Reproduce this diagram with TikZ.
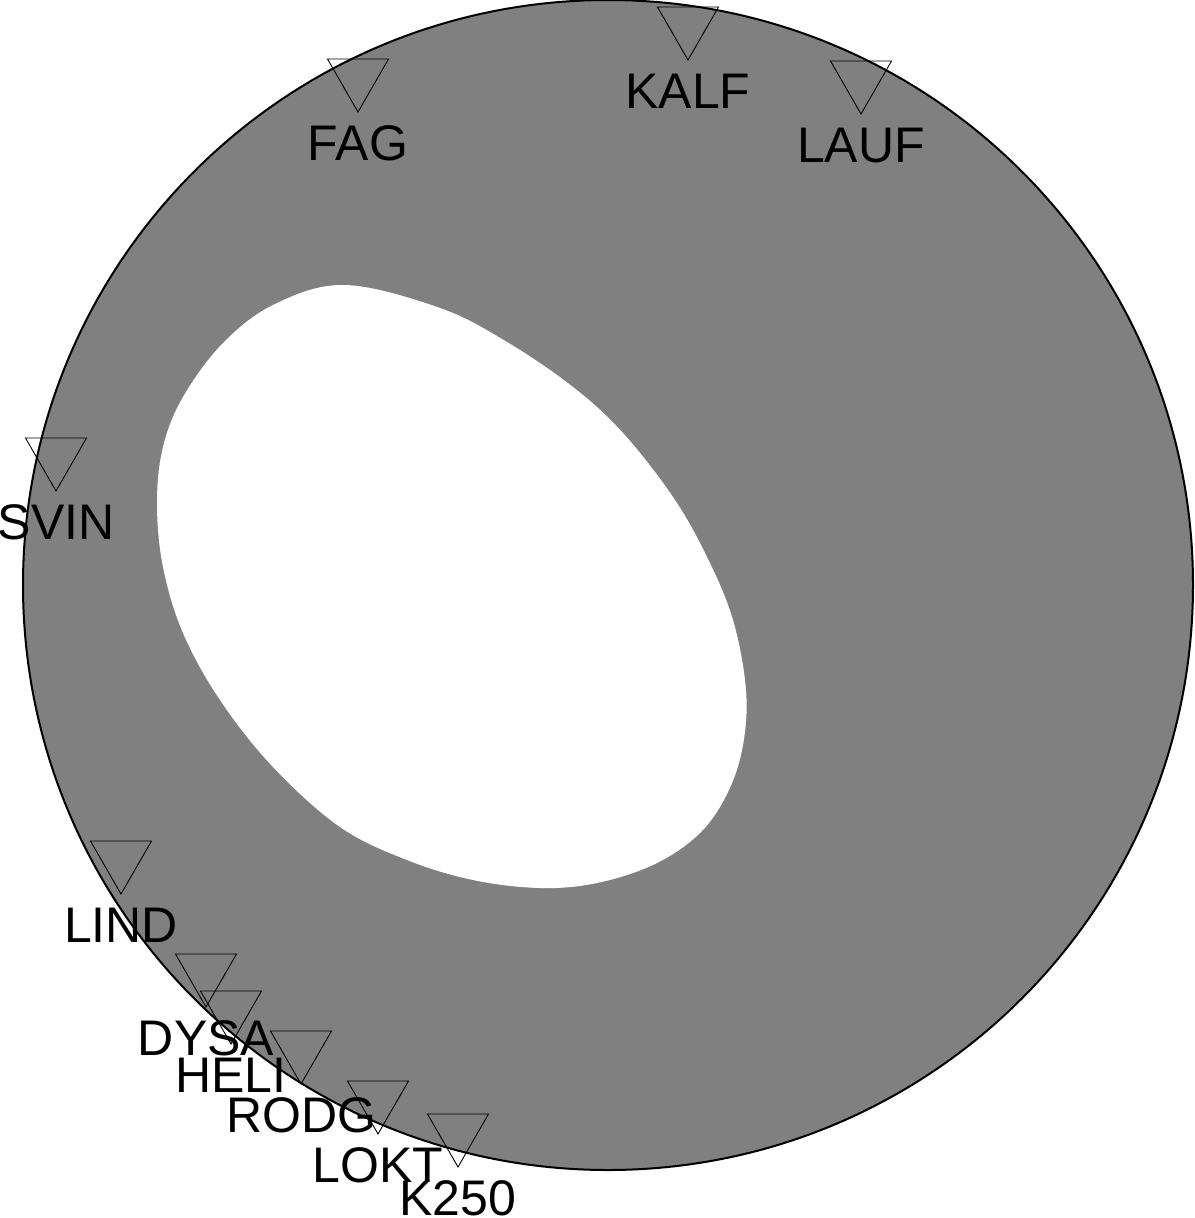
\documentclass[tikz,border=0pt]{standalone}
\usepackage{fontspec}
\setmainfont{Liberation Sans}
\definecolor{fillgray}{RGB}{128,128,128}
\begin{document}
\begin{tikzpicture}[x=1pt,y=-1pt,
  tri/.style={draw=black,line width=0.9pt,line join=miter},
  lab/.style={anchor=base,inner sep=0pt,font=\fontsize{50}{60}\selectfont}]
\useasboundingbox (0,0) rectangle (1194,1218);
% disc
\coordinate (c) at (608,585);
\fill[fillgray] (c) circle[radius=585];
% hole
\fill[white] plot[smooth cycle,tension=0.6] coordinates {
 (345,285) (440,308) (507,342) (573,387) (623,433) (673,497) (707,557)
 (733,620) (746,690) (743,745) (728,792) (700,833) (655,864) (597,883)
 (540,888) (473,880) (407,860) (340,827) (273,767) (220,700) (183,633)
 (163,567) (157,503) (163,447) (183,397) (223,343) (275,304)};
\draw[black,line width=2pt] (c) circle[radius=585];
% stations
\foreach \n/\x/\y in {FAG/358/112, KALF/688/60, LAUF/861/114, SVIN/56/491,
  LIND/121/894, DYSA/206/1007, HELI/231/1044, RODG/301/1084,
  LOKT/378/1134, K250/458/1167}{
  \coordinate (s\n) at (\x,\y);
  \draw[tri] (s\n) -- ++(-30.5,-53) -- ++(61,0) -- cycle;
  \node[lab] (l\n) at ([yshift=-48.5pt]s\n) {\n};
}
\end{tikzpicture}
\end{document}
